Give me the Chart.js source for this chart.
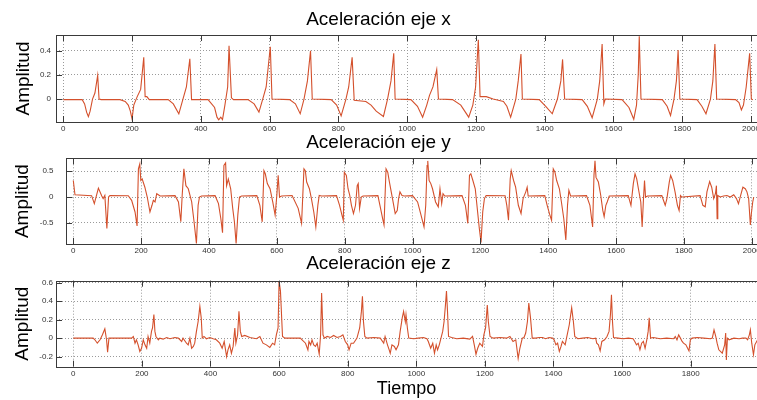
<!DOCTYPE html>
<html>
<head>
<meta charset="utf-8">
<script src="https://cdn.jsdelivr.net/npm/chart.js@4.4.0/dist/chart.umd.min.js"></script>
<style>
html,body{margin:0;padding:0;background:#fff;width:757px;height:400px;overflow:hidden;}
canvas{position:absolute;left:0;}
</style>
</head>
<body>
<canvas id="cX" width="757" height="140" style="top:0px"></canvas>
<canvas id="cY" width="757" height="140" style="top:122px"></canvas>
<canvas id="cZ" width="757" height="156" style="top:244px"></canvas>
<script>
// ---------- DATA ----------
const titulos = ['Aceleración eje x', 'Aceleración eje y', 'Aceleración eje z'];
const etiquetaY = 'Amplitud';
const etiquetaX = 'Tiempo';

const ticksX12 = [0, 200, 400, 600, 800, 1000, 1200, 1400, 1600, 1800, 2000];
const ticksX3  = [0, 200, 400, 600, 800, 1000, 1200, 1400, 1600, 1800];
const ticksYx  = [0, 0.2, 0.4];
const ticksYy  = [-0.5, 0, 0.5];
const ticksYz  = [-0.2, 0, 0.2, 0.4, 0.6];

// Eje x
const tiempoX = [
  0,55,62,68,73,78,85,92,100,104,110,
  165,180,189,195,200,205,215,225,234,238,243,250,
  305,320,336,348,358,368,373,
  421,440,447,452,458,463,470,478,482,489,495,
  537,555,569,580,590,602,607,
  658,675,689,700,710,719,724,
  779,795,808,822,830,840,846,
  880,895,910,931,943,953,961,965,
  1011,1030,1045,1057,1065,1075,1086,1091,
  1132,1156,1179,1191,1199,1207,1212,1230,1250,
  1280,1290,1301,1316,1323,1331,1335,
  1384,1403,1422,1437,1447,1452,1458,
  1509,1524,1538,1553,1560,1567,1572,1576,
  1625,1645,1659,1667,1672,1675,1680,
  1742,1756,1766,1776,1783,1788,1793,
  1843,1857,1869,1882,1889,1895,1900,
  1955,1965,1972,1978,1986,1996,2001,2005
];
const acelX = [
  -0.005,-0.005,-0.04,-0.11,-0.145,-0.1,0,0.05,0.195,0,-0.005,
  -0.005,-0.02,-0.05,-0.1,-0.165,-0.05,0.02,0.08,0.345,0.02,0.02,-0.005,
  -0.005,-0.04,-0.122,0,0.1,0.333,-0.005,
  -0.005,-0.07,-0.15,-0.172,-0.15,-0.17,-0.05,0.1,0.44,0.01,-0.005,
  -0.005,-0.04,-0.108,0,0.1,0.433,0,
  -0.005,-0.04,-0.122,0,0.15,0.4,0,
  -0.005,-0.05,-0.139,0,0.1,0.345,-0.01,
  -0.02,-0.05,-0.1,-0.144,0,0.15,0.378,0,
  -0.005,-0.06,-0.15,-0.05,0.03,0.1,0.244,0,
  -0.005,-0.05,-0.15,-0.05,0.1,0.49,0.02,0.02,0,
  -0.02,-0.06,-0.15,0,0.15,0.372,0,
  -0.005,-0.06,-0.122,0,0.15,0.328,0,
  -0.005,-0.06,-0.155,0,0.15,0.456,-0.04,0,
  -0.005,-0.07,-0.167,-0.05,0.2,0.52,0,
  -0.005,-0.06,-0.136,0,0.15,0.405,0,
  -0.005,-0.06,-0.122,0,0.15,0.456,0,
  -0.005,-0.03,-0.09,-0.05,0.1,0.378,0,-0.005
];

// Eje y
const tiempoY = [
  0,5,54,62,74,84,88,93,99,104,108,
  162,172,182,188,192,196,199,203,211,218,226,232,236,241,246,256,
  300,310,317,321,326,332,339,349,356,363,368,372,378,
  418,428,435,440,444,449,452,457,464,470,475,480,485,490,496,
  541,550,557,562,566,572,580,588,595,600,604,608,614,
  645,663,673,680,684,688,696,702,709,715,721,725,732,
  776,785,792,796,799,805,810,815,820,826,832,837,840,844,849,854,
  898,904,912,916,922,927,932,941,949,955,959,963,969,976,
  1000,1015,1024,1034,1039,1043,1045,1049,1054,1059,1068,1076,1081,1086,1090,1095,
  1146,1156,1163,1168,1172,1178,1185,1192,1197,1202,1207,1212,1217,
  1273,1278,1283,1288,1291,1298,1304,1312,1320,1326,1334,1338,1341,
  1390,1397,1405,1410,1415,1420,1425,1433,1439,1446,1452,1457,1461,1466,
  1513,1523,1528,1531,1535,1538,1541,1548,1555,1561,1565,1570,1574,1580,
  1636,1644,1651,1656,1661,1666,1673,1677,1681,1684,1687,1693,
  1735,1745,1750,1757,1761,1767,1774,1781,1786,1790,1794,
  1848,1856,1863,1868,1876,1882,1888,1893,1896,1898,1900,1907,1917,1927,
  1937,1947,1955,1961,1966,1974,1981,1986,1991,1996,1999,2003,2006
];
const acelY = [
  0.32,0.045,0.026,-0.128,0.173,0.02,-0.03,0.03,-0.61,0,0.03,
  0.026,-0.064,-0.29,-0.56,0.545,0.64,0.32,0.35,0.19,0,-0.29,-0.16,-0.064,-0.096,0.064,0.02,
  0.026,-0.096,-0.48,0.03,0.545,0.22,0.16,-0.096,-0.48,-0.9,-0.16,0,0.02,
  0.026,-0.128,-0.42,-0.69,0.61,0.66,0.22,0.35,0.16,-0.22,-0.48,-0.9,-0.35,0,0.02,
  0.026,-0.16,-0.48,0.51,0.45,0.26,0.16,-0.096,-0.35,0.03,0.42,0,0.02,
  0.03,-0.22,-0.51,0.545,0.51,0.29,0.16,-0.03,-0.29,-0.58,-0.16,0.03,0.02,
  0.026,-0.16,-0.35,-0.45,0.48,0.42,0.16,0.03,-0.16,-0.32,-0.16,0.22,0.26,-0.22,0,0.02,
  0.026,-0.16,-0.42,-0.54,0.545,0.48,0.29,-0.03,-0.32,-0.26,-0.03,0.1,0.03,0.02,
  0.026,-0.096,-0.32,-0.58,-0.16,0.61,0.7,0.32,0.26,0.16,-0.096,-0.19,0.16,-0.128,0.064,0.02,
  0.026,-0.16,-0.51,0.42,0.45,0.32,0.16,-0.29,-0.61,-0.88,-0.29,-0.03,0.03,
  0.026,-0.16,-0.45,0.35,0.51,0.32,0.19,-0.16,-0.32,-0.03,0.1,0.19,0.02,
  0.026,-0.16,-0.35,-0.45,0.545,0.48,0.32,0.16,-0.096,-0.42,-0.83,-0.16,0.13,0.02,
  0.026,-0.16,-0.42,-0.58,0.42,0.7,0.38,0.29,0.03,-0.26,-0.38,-0.16,-0.096,0.02,
  0.026,-0.16,0.26,0.45,0.35,0.16,-0.096,-0.58,-0.03,0.32,0,0.02,
  0.026,-0.16,-0.03,0.29,0.42,0.32,0.1,-0.16,-0.26,0.03,0,
  0.026,-0.16,-0.19,0.1,0.3,0.19,-0.03,0.064,0.22,-0.42,0.03,0,0.02,0.03,
  0,0.045,-0.03,-0.128,0,0.19,0.16,0.1,-0.03,-0.54,-0.32,-0.096,0
];

// Eje z
const tiempoZ = [
  0,58,63,70,78,85,92,97,100,104,
  170,175,180,184,189,194,199,204,209,214,
  218,223,228,231,235,238,241,248,252,262,
  272,282,296,306,316,320,330,335,340,345,
  350,354,359,364,369,373,376,381,388,398,
  408,417,427,434,440,447,451,456,461,466,
  471,474,479,483,487,491,500,515,534,544,
  553,563,573,581,587,592,597,600,604,610,
  617,641,662,667,677,684,687,692,696,701,
  706,711,717,721,724,728,732,740,750,759,
  769,779,786,793,800,804,810,817,827,835,
  840,843,846,850,856,876,895,905,909,916,
  921,924,929,936,941,948,953,959,963,968,
  970,974,978,992,1006,1021,1031,1035,1042,1048,
  1053,1058,1062,1067,1072,1077,1081,1085,1088,1091,
  1094,1103,1118,1137,1156,1164,1169,1174,1179,1185,
  1193,1197,1202,1207,1210,1215,1224,1244,1263,1273,
  1282,1290,1297,1302,1309,1314,1319,1324,1328,1333,
  1338,1348,1358,1368,1377,1387,1397,1402,1407,1412,
  1417,1422,1426,1434,1439,1446,1453,1458,1462,1471,
  1485,1500,1515,1523,1526,1531,1536,1541,1549,1556,
  1562,1566,1569,1572,1575,1588,1603,1618,1632,1637,
  1642,1647,1652,1657,1662,1667,1672,1676,1679,1683,
  1691,1711,1730,1750,1755,1760,1765,1770,1775,1779,
  1786,1791,1795,1799,1804,1819,1838,1858,1863,1868,
  1873,1877,1882,1892,1899,1902,1904,1907,1912,1926,
  1941,1951,1961,1966,1971,1974,1978,1983,1987,1995
];
const acelZ = [
  0,0,-0.018,-0.055,-0.018,0.036,0.1,-0.018,-0.153,0,
  0,0.018,-0.055,-0.018,-0.073,-0.145,-0.11,-0.018,-0.073,-0.11,
  0.018,-0.055,0.073,0.11,0.255,0.073,0.018,-0.018,0,-0.011,
  0.007,-0.007,0.007,0,-0.036,0,-0.055,-0.073,0,-0.11,
  -0.09,-0.055,0.073,0.18,0.345,0.22,0,0.018,-0.007,0.007,
  -0.007,-0.018,-0.055,-0.11,-0.036,-0.2,-0.127,-0.073,-0.164,-0.09,
  0.11,-0.055,0.036,0.29,0.073,0.018,0.029,0.007,-0.007,0.018,
  -0.055,-0.073,-0.1,-0.055,-0.073,0.036,0.11,0.62,0.51,0.018,
  0,0,0,-0.018,-0.055,-0.127,-0.036,-0.073,-0.018,-0.073,
  -0.09,-0.055,-0.175,0.036,0.49,0.036,0,0.018,0.007,0.029,
  0.007,0.018,0.036,-0.036,-0.073,-0.127,-0.055,-0.055,0,0.11,
  0.29,0.455,0.18,0.018,0,0.007,0,-0.055,0.018,-0.073,
  -0.127,-0.164,-0.073,-0.09,-0.127,-0.073,0.073,0.22,0.29,0.18,
  0.255,0.11,0,-0.007,0,0.007,-0.007,-0.036,-0.11,-0.055,
  -0.164,-0.073,-0.127,-0.073,0,0.073,0.18,0.36,0.51,0.29,
  0.018,0.007,-0.007,0,-0.011,0.018,-0.073,-0.175,-0.11,-0.055,
  -0.09,0.036,0.11,0.36,0.18,0.018,0,0.007,0,0.018,
  -0.036,-0.018,-0.22,-0.11,0,0.007,0.055,0.18,0.38,0.22,
  0,0,0.007,0.007,-0.007,0.007,0,-0.018,-0.073,-0.055,
  -0.145,-0.09,-0.036,-0.073,0.018,0.145,0.33,0.18,0.018,-0.007,
  0,0.007,-0.007,0,-0.055,-0.073,-0.138,-0.036,-0.018,0.018,
  0.073,0.255,0.47,0.18,0.007,0,-0.007,0,-0.007,-0.036,
  -0.073,-0.055,-0.127,-0.055,-0.036,-0.11,-0.018,0.073,0.22,0,
  0.007,-0.007,0,-0.007,0.018,-0.018,0.036,0,-0.036,-0.055,
  -0.073,-0.11,-0.138,-0.018,0,0.007,0,-0.007,0,0.09,
  0.018,-0.055,-0.127,-0.164,-0.073,0.055,-0.236,0,-0.018,0,
  -0.007,0,0,-0.018,0.036,0.09,-0.055,-0.18,-0.073,-0.018
];

// ---------- STYLE ----------
const FONT = "Arial, 'Liberation Sans', sans-serif";
const LINE_COLOR = '#d4502c';
const GRID_COLOR = '#9a9a9a';
const FRAME_COLOR = '#3a3a3a';

const framePlugin = {
  id: 'matlabFrame',
  afterDatasetsDraw(chart) {
    const {ctx, chartArea: a, scales} = chart;
    const tl = 6;
    ctx.save();
    ctx.strokeStyle = FRAME_COLOR;
    ctx.lineWidth = 1;
    ctx.beginPath();
    scales.x.ticks.forEach(t => {
      const px = Math.round(scales.x.getPixelForValue(t.value)) + 0.5;
      ctx.moveTo(px, a.bottom); ctx.lineTo(px, a.bottom - tl);
      ctx.moveTo(px, a.top); ctx.lineTo(px, a.top + tl);
    });
    scales.y.ticks.forEach(t => {
      const py = Math.round(scales.y.getPixelForValue(t.value)) + 0.5;
      ctx.moveTo(a.left, py); ctx.lineTo(a.left + tl, py);
    });
    ctx.stroke();
    ctx.strokeRect(Math.round(a.left) + 0.5, Math.round(a.top) + 0.5,
                   Math.round(a.right - a.left), Math.round(a.bottom - a.top));
    ctx.restore();
  }
};

function makeChart(id, p) {
  return new Chart(document.getElementById(id), {
    type: 'line',
    data: {
      datasets: [{
        data: p.t.map((x, i) => ({x: x, y: p.v[i]})),
        borderColor: LINE_COLOR,
        borderWidth: 1.1,
        pointRadius: 0,
        tension: 0,
        fill: false
      }]
    },
    options: {
      responsive: false,
      animation: false,
      events: [],
      layout: {padding: 0},
      plugins: {
        legend: {display: false},
        tooltip: {enabled: false},
        title: {
          display: true, text: p.title, color: '#000',
          font: {family: FONT, size: 19, weight: 'normal', lineHeight: 1.2},
          padding: {top: p.tt, bottom: p.tb}
        }
      },
      scales: {
        x: {
          type: 'linear', min: p.xmin, max: p.xmax, bounds: 'data',
          afterBuildTicks: s => { s.ticks = p.xt.map(v => ({value: v})); },
          afterFit: s => { s.height = p.xh; s.paddingLeft = 0; s.paddingRight = 0; },
          ticks: {autoSkip: false, maxRotation: 0, padding: 2, color: '#333',
                  font: {family: FONT, size: 8}, callback: v => String(v)},
          grid: {color: GRID_COLOR, lineWidth: 1, drawTicks: false},
          border: {display: false, dash: [1, 2]},
          title: p.xTitle ? {display: true, text: p.xTitle, color: '#000',
                  font: {family: FONT, size: 18, weight: 'normal', lineHeight: 1.2},
                  padding: {top: 0, bottom: 0}} : {display: false}
        },
        y: {
          type: 'linear', min: p.ymin, max: p.ymax, bounds: 'data',
          afterBuildTicks: s => { s.ticks = p.yt.map(v => ({value: v})); },
          afterFit: s => { s.width = p.yw; s.paddingTop = 0; s.paddingBottom = 0; },
          ticks: {padding: p.yp, color: '#333', font: {family: FONT, size: 8},
                  callback: v => String(v)},
          grid: {color: GRID_COLOR, lineWidth: 1, drawTicks: false},
          border: {display: false, dash: [1, 2]},
          title: {display: true, text: etiquetaY, color: '#000',
                  font: {family: FONT, size: 19, weight: 'normal', lineHeight: 1.2},
                  padding: {top: p.ytp, bottom: 0}}
        }
      }
    },
    plugins: [framePlugin]
  });
}

makeChart('cX', {title: titulos[0], t: tiempoX, v: acelX, tt: 8.6, tb: 3.6,
  xmin: -21.2, xmax: 2017.4, xt: ticksX12, xh: 18,
  ymin: -0.19, ymax: 0.53, yt: ticksYx, yw: 56, yp: 5, ytp: 12});
makeChart('cY', {title: titulos[1], t: tiempoY, v: acelY, tt: 9, tb: 4.5,
  xmin: -21.5, xmax: 2015.6, xt: ticksX12, xh: 18,
  ymin: -0.91, ymax: 0.75, yt: ticksYy, yw: 66, yp: 12.5, ytp: 11});
makeChart('cZ', {title: titulos[2], t: tiempoZ, v: acelZ, tt: 8, tb: 5.9,
  xmin: -50.4, xmax: 1993.3, xt: ticksX3, xh: 33.3, xTitle: etiquetaX,
  ymin: -0.31, ymax: 0.623, yt: ticksYz, yw: 56, yp: 3, ytp: 11});
</script>
</body>
</html>
